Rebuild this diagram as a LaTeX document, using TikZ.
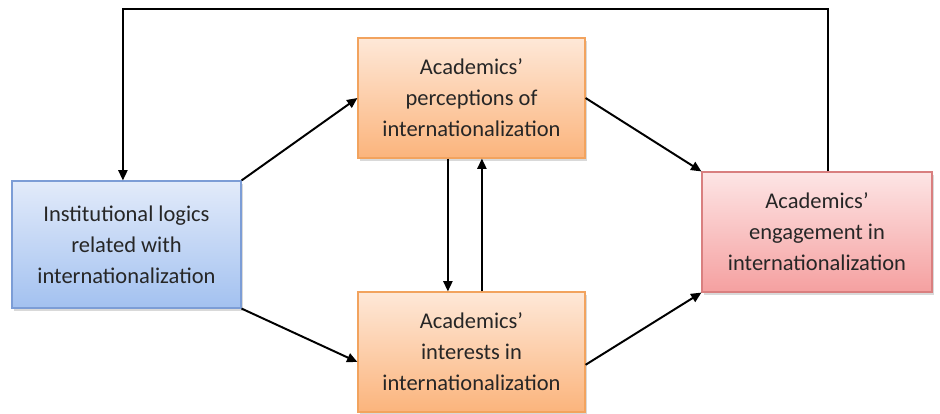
\documentclass[tikz,border=0pt]{standalone}
\usepackage{tikz}
\usepackage{xcolor}
\usepackage{fontspec}
\setmainfont{Carlito}
\usetikzlibrary{arrows.meta, shadows, positioning}
\definecolor{LogicTop}{HTML}{E2EBFA}
\definecolor{LogicBottom}{HTML}{A3C1F0}
\definecolor{LogicLine}{HTML}{7C9DD6}
\definecolor{ViewTop}{HTML}{FEE8D8}
\definecolor{ViewBottom}{HTML}{FBB47C}
\definecolor{ViewLine}{HTML}{F2A35E}
\definecolor{EngTop}{HTML}{FDE5E5}
\definecolor{EngBottom}{HTML}{F5A0A0}
\definecolor{EngLine}{HTML}{D97F7F}

\begin{document}
\begin{tikzpicture}[>={Triangle[length=2.6mm, width=2.3mm]}, line width=1.4pt, node distance=6.35cm, on grid,
    box/.style={rectangle, draw, line width=0.8pt, align=center, text=black!85, font=\fontsize{16}{22}\selectfont,
        minimum width=5.7cm, minimum height=3cm, inner sep=2pt,
        drop shadow={shadow xshift=0.6mm, shadow yshift=-0.8mm, opacity=0.3}},
    logic/.style={box, draw=LogicLine, top color=LogicTop, bottom color=LogicBottom},
    view/.style={box, draw=ViewLine, top color=ViewTop, bottom color=ViewBottom},
    engage/.style={box, draw=EngLine, top color=EngTop, bottom color=EngBottom}]

        \useasboundingbox (0,0) rectangle (23.5,10.325);

        \node[logic, minimum width=5.725cm, minimum height=3.175cm] (Inst) at (3.1625,4.2125) {Institutional logics\\related with\\internationalization};
        \node[view, minimum width=5.675cm] (Perc) at (11.7875,7.875) {Academics'\\perceptions of\\internationalization};
        \node[view, minimum width=5.675cm, below=of Perc] (Intr) {Academics'\\interests in\\internationalization};
        \node[engage, minimum width=5.75cm] (Eng) at (20.425,4.525) {Academics'\\engagement in\\internationalization};

        \path[->]
        (Inst.north east) edge (Perc.west)
        (Inst.south east) edge ([yshift=-2.5mm]Intr.west)
        (Perc.east) edge (Eng.north west)
        ([yshift=-3.2mm]Intr.east) edge (Eng.south west)
        ([xshift=-5.9mm]Perc.south) edge ([xshift=-5.9mm]Intr.north)
        ([xshift=2.6mm]Intr.north) edge ([xshift=2.6mm]Perc.south)
        ;
        \draw[->] ([xshift=2.75mm]Eng.north) -- ++(0,4.05) -| ([xshift=-0.9mm]Inst.north);

    \end{tikzpicture}
\end{document}
